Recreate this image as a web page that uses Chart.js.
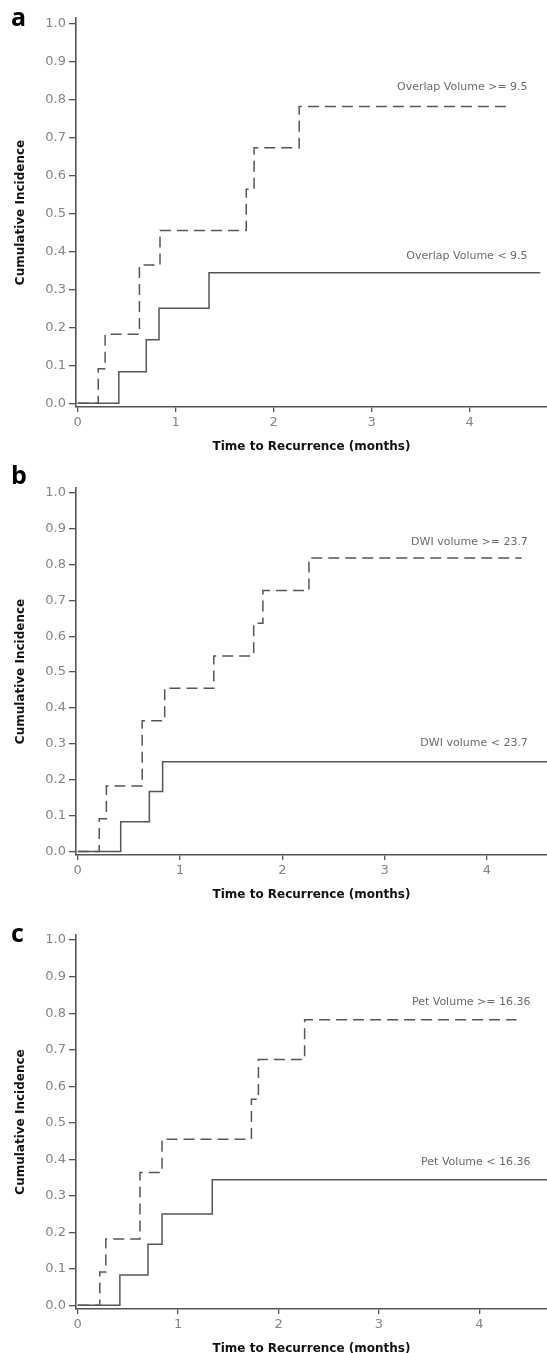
<!DOCTYPE html>
<html>
<head>
<meta charset="utf-8">
<script src="https://cdn.jsdelivr.net/npm/chart.js@4.4.1/dist/chart.umd.min.js"></script>
<style>
  html, body { margin: 0; padding: 0; background: #fff; }
  body { width: 547px; height: 1353px; overflow: hidden; position: relative; }
  .panel { position: absolute; left: 0; width: 547px; }
  .tag { position: absolute; left: 11px; font: 700 25px/25px "Open Sans", sans-serif; color: #000; }
</style>
</head>
<body>
<div class="panel" style="top:0;height:456px"><canvas id="chartA"></canvas></div>
<div class="panel" style="top:456px;height:448px"><canvas id="chartB"></canvas></div>
<div class="panel" style="top:904px;height:454px"><canvas id="chartC"></canvas></div>
<div class="tag" style="top:4px">a</div>
<div class="tag" style="top:462px">b</div>
<div class="tag" style="top:920px">c</div>

<script>
// axis ticks
const xTicks = [0, 1, 2, 3, 4];
const yTicks = [0, 0.1, 0.2, 0.3, 0.4, 0.5, 0.6, 0.7, 0.8, 0.9, 1.0];

// panel a - overlap volume
const aHighT = [0, 0.21, 0.28, 0.63, 0.84, 1.72, 1.80, 2.26, 4.38];
const aHighV = [0, 0.091, 0.182, 0.364, 0.455, 0.564, 0.673, 0.782, 0.782];
const aLowT  = [0, 0.42, 0.70, 0.83, 1.34, 4.72];
const aLowV  = [0, 0.083, 0.167, 0.25, 0.344, 0.344];
const aNames = ['Overlap Volume >= 9.5', 'Overlap Volume < 9.5'];
const aNameX = [4.59, 4.59];
const aNameY = [0.832, 0.388];

// panel b - DWI volume
const bHighT = [0, 0.21, 0.28, 0.63, 0.85, 1.33, 1.72, 1.81, 2.26, 4.34];
const bHighV = [0, 0.091, 0.182, 0.364, 0.455, 0.545, 0.636, 0.727, 0.818, 0.818];
const bLowT  = [0, 0.42, 0.70, 0.83, 4.6];
const bLowV  = [0, 0.083, 0.167, 0.25, 0.25];
const bNames = ['DWI volume >= 23.7', 'DWI volume < 23.7'];
const bNameX = [4.40, 4.40];
const bNameY = [0.863, 0.303];

// panel c - PET volume
const cHighT = [0, 0.22, 0.28, 0.62, 0.84, 1.73, 1.80, 2.26, 4.37];
const cHighV = [0, 0.091, 0.182, 0.364, 0.455, 0.564, 0.673, 0.782, 0.782];
const cLowT  = [0, 0.42, 0.70, 0.84, 1.34, 4.7];
const cLowV  = [0, 0.083, 0.167, 0.25, 0.344, 0.344];
const cNames = ['Pet Volume >= 16.36', 'Pet Volume < 16.36'];
const cNameX = [4.51, 4.51];
const cNameY = [0.829, 0.391];

const lineCol = '#565656';
const axisCol = '#555';
const tickCol = '#858585';

function pts(t, v) { return t.map((x, i) => ({ x: x, y: v[i] })); }

// curve names drawn next to their lines
const curveNames = {
  id: 'curveNames',
  afterDatasetsDraw(chart, args, opts) {
    const ctx = chart.ctx, sx = chart.scales.x, sy = chart.scales.y;
    ctx.save();
    ctx.font = '11px "DejaVu Sans", sans-serif';
    ctx.fillStyle = '#6a6a6a';
    ctx.textAlign = 'right';
    ctx.textBaseline = 'middle';
    opts.names.forEach((n, i) => {
      ctx.fillText(n, sx.getPixelForValue(opts.xs[i]), sy.getPixelForValue(opts.ys[i]));
    });
    ctx.restore();
  }
};

function makePanel(id, p) {
  new Chart(document.getElementById(id), {
    type: 'line',
    data: {
      datasets: [
        { data: pts(p.highT, p.highV), borderColor: lineCol, borderWidth: 1.5,
          borderDash: [11, 6], stepped: true, pointRadius: 0, fill: false },
        { data: pts(p.lowT, p.lowV), borderColor: lineCol, borderWidth: 1.5,
          stepped: true, pointRadius: 0, fill: false }
      ]
    },
    options: {
      responsive: true,
      maintainAspectRatio: false,
      animation: false,
      layout: { padding: { top: p.padTop, bottom: 1, left: 0, right: 0 } },
      plugins: {
        legend: { display: false },
        tooltip: { enabled: false },
        curveNames: { names: p.names, xs: p.nameX, ys: p.nameY }
      },
      scales: {
        x: {
          type: 'linear', min: -0.017, max: p.xMax,
          afterBuildTicks: s => { s.ticks = xTicks.map(v => ({ value: v })); },
          afterFit: s => { s.height = 48; },
          ticks: { color: tickCol, font: { family: 'DejaVu Sans', size: 13 }, padding: 3,
                   maxRotation: 0, autoSkip: false, callback: v => String(v) },
          grid: { drawOnChartArea: false, tickLength: 5, color: axisCol, lineWidth: 1.3 },
          border: { color: axisCol, width: 1.6 },
          title: { display: true, text: 'Time to Recurrence (months)', color: '#111',
                   font: { family: 'DejaVu Sans', weight: 'bold', size: 12 },
                   padding: { top: 0, bottom: 1 } }
        },
        y: {
          type: 'linear', min: -0.01, max: p.yMax,
          afterBuildTicks: s => { s.ticks = yTicks.map(v => ({ value: v })); },
          afterFit: s => { s.width = 76; },
          ticks: { color: tickCol, font: { family: 'DejaVu Sans', size: 13 }, padding: 3,
                   autoSkip: false, callback: v => v.toFixed(1) },
          grid: { drawOnChartArea: false, tickLength: 7, color: axisCol, lineWidth: 1.3 },
          border: { color: axisCol, width: 1.6 },
          title: { display: true, text: 'Cumulative Incidence', color: '#111',
                   font: { family: 'DejaVu Sans', weight: 'bold', size: 12 },
                   padding: { top: 14, bottom: 0 } }
        }
      }
    },
    plugins: [curveNames]
  });
}

makePanel('chartA', { highT: aHighT, highV: aHighV, lowT: aLowT, lowV: aLowV,
  names: aNames, nameX: aNameX, nameY: aNameY, xMax: 4.788, yMax: 1.015, padTop: 18 });
makePanel('chartB', { highT: bHighT, highV: bHighV, lowT: bLowT, lowV: bLowV,
  names: bNames, nameX: bNameX, nameY: bNameY, xMax: 4.587, yMax: 1.013, padTop: 32 });
makePanel('chartC', { highT: cHighT, highV: cHighV, lowT: cLowT, lowV: cLowV,
  names: cNames, nameX: cNameX, nameY: cNameY, xMax: 4.674, yMax: 1.014, padTop: 31 });
</script>
</body>
</html>
